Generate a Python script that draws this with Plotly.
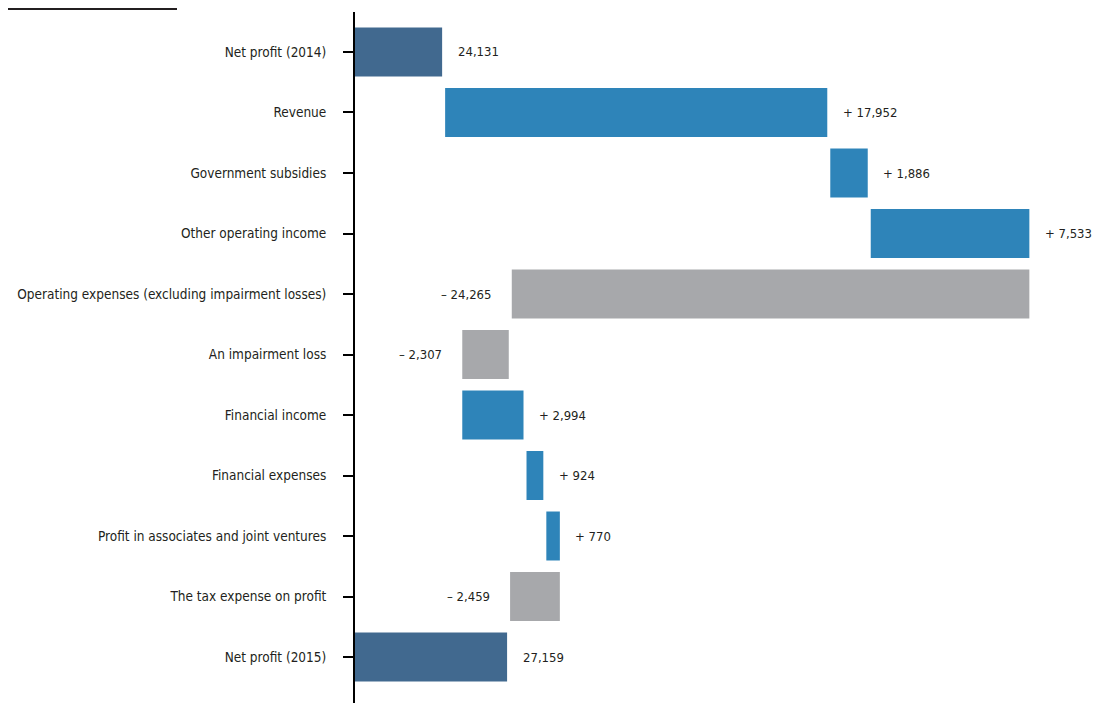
import plotly.graph_objects as go

categories = [
    "Net profit (2014)", "Revenue", "Government subsidies", "Other operating income",
    "Operating expenses (excluding impairment losses)", "An impairment loss",
    "Financial income", "Financial expenses", "Profit in associates and joint ventures",
    "The tax expense on profit", "Net profit (2015)",
]
values = [24131, 17952, 1886, 7533, -24265, -2307, 2994, 924, 770, -2459, 27159]
kinds = ["total", "delta", "delta", "delta", "delta", "delta", "delta", "delta", "delta", "delta", "total"]

COL_TOTAL = "#41698F"
COL_UP = "#2E84B9"
COL_DOWN = "#A7A8AB"
FONT = "Liberation Sans Narrow, DejaVu Sans Condensed, sans-serif"
FS_TICK = 13.5
FS_VAL = 13

# the page places the figure 8px in from the window edges; keep it inside the window
W, H = 1088, 695
ML, MR, MT, MB = 347, 33, 4, 0
PW, PH = W - ML - MR, H - MT - MB

bases, lengths, colors, annots = [], [], [], []
running = 0
for cat, v, k in zip(categories, values, kinds):
    if k == "total":
        bases.append(0)
        lengths.append(v)
        colors.append(COL_TOTAL)
        running = v
        annots.append(dict(x=v, y=cat, text=f"{v:,}", xanchor="left", xshift=12))
    else:
        bases.append(running)
        lengths.append(v)
        if v >= 0:
            colors.append(COL_UP)
            annots.append(dict(x=running + v, y=cat, text=f"+ {v:,}", xanchor="left", xshift=12))
        else:
            colors.append(COL_DOWN)
            annots.append(dict(x=running + v, y=cat, text=f"– {abs(v):,}", xanchor="right", xshift=-17))
        running += v

fig = go.Figure(go.Bar(
    y=categories, x=lengths, base=bases, orientation="h",
    marker=dict(color=colors, line=dict(color="white", width=3)),
    hoverinfo="skip",
))

for a in annots:
    fig.add_annotation(x=a["x"], y=a["y"], text=a["text"], xanchor=a["xanchor"],
                       xshift=a["xshift"], showarrow=False,
                       font=dict(family=FONT, size=FS_VAL, color="#231F20"))

fig.add_shape(type="line", xref="paper", yref="paper",
              x0=-ML / PW, x1=(169 - ML) / PW, y0=1 + 3 / PH, y1=1 + 3 / PH,
              line=dict(color="#231F20", width=2))

fig.update_layout(
    width=W, height=H,
    margin=dict(l=ML, r=MR, t=MT, b=MB, autoexpand=False),
    plot_bgcolor="white", paper_bgcolor="white",
    bargap=0.14, showlegend=False,
    font=dict(family=FONT, size=FS_TICK, color="#231F20"),
    xaxis=dict(range=[20000, 53000], visible=False, showgrid=False, zeroline=False,
               automargin=False),
    yaxis=dict(
        type="category", categoryorder="array", categoryarray=categories,
        range=[10.76, -0.661], showline=True, linecolor="black", linewidth=2,
        ticks="outside", ticklen=10, tickwidth=2, tickcolor="black",
        showgrid=False, ticklabelstandoff=14, automargin=False,
        tickfont=dict(family=FONT, size=FS_TICK, color="#231F20"),
    ),
)

fig.write_html("out.html")
